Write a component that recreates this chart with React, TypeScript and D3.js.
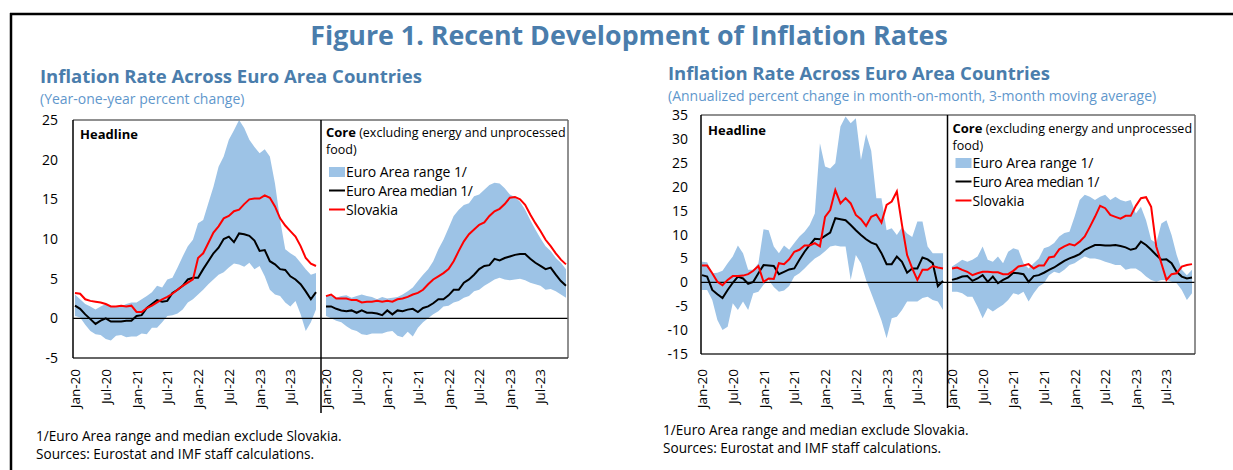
import * as d3 from "d3";

// ---- data ----
const months = d3.timeMonths(new Date(2020, 0, 1), new Date(2024, 0, 1)).map(d3.timeFormat("%b-%y"));
const tickLabels = ["Jan-20", "Jul-20", "Jan-21", "Jul-21", "Jan-22", "Jul-22", "Jan-23", "Jul-23"];

// Year-on-year, headline
const yoyHeadLo = [0.3, 0.1, -0.8, -1.6, -2.0, -2.1, -2.6, -2.8, -2.2, -2.1, -2.4, -2.3, -2.3, -1.9, -2.0, -1.2, -1.2, -0.5, 0.3, 0.4, 0.6, 1.1, 2.0, 2.4, 3.0, 3.6, 4.3, 4.9, 5.5, 5.8, 6.4, 6.9, 6.8, 6.5, 7.0, 6.2, 6.6, 5.3, 3.6, 3.0, 2.8, 2.0, 1.5, 2.2, 0.5, -1.6, -0.5, 1.1];
const yoyHeadHi = [3.0, 2.4, 1.8, 1.5, 1.1, 1.5, 1.8, 1.5, 1.4, 1.5, 1.8, 2.0, 2.0, 2.4, 2.8, 3.3, 4.1, 3.9, 4.9, 5.1, 6.4, 7.8, 9.1, 9.9, 12.0, 12.4, 14.5, 16.6, 19.1, 20.4, 22.5, 23.7, 25.0, 24.0, 22.5, 21.6, 20.8, 21.3, 20.4, 17.0, 12.4, 8.7, 8.2, 7.8, 7.0, 6.2, 5.5, 5.7];
const yoyHeadMed = [1.6, 1.2, 0.5, -0.1, -0.7, -0.3, 0.0, -0.4, -0.4, -0.4, -0.3, -0.3, 0.3, 0.4, 1.3, 1.8, 2.3, 2.1, 2.2, 3.2, 3.6, 4.1, 4.9, 5.1, 5.1, 6.2, 7.2, 8.2, 8.9, 10.0, 10.3, 9.6, 10.7, 10.6, 10.4, 9.8, 8.5, 8.6, 7.2, 6.8, 6.2, 6.1, 5.3, 4.9, 4.3, 3.4, 2.4, 3.3];
const yoyHeadSvk = [3.2, 3.1, 2.4, 2.2, 2.1, 2.0, 1.8, 1.5, 1.5, 1.6, 1.5, 1.6, 0.8, 0.8, 1.3, 1.6, 2.0, 2.4, 2.7, 3.1, 3.6, 4.1, 4.5, 4.9, 7.6, 8.2, 9.5, 10.8, 11.6, 12.6, 12.9, 13.5, 13.7, 14.4, 15.0, 15.1, 15.1, 15.5, 15.2, 14.1, 12.6, 11.7, 11.0, 10.3, 9.1, 7.6, 6.9, 6.6];

// Year-on-year, core
const yoyCoreLo = [0.3, 0.0, -0.3, -0.5, -1.0, -1.4, -1.6, -2.0, -2.1, -1.9, -1.9, -1.9, -1.7, -1.6, -2.2, -2.4, -1.7, -2.3, -1.2, -0.5, 0.0, 0.5, 0.9, 1.5, 1.6, 2.0, 2.2, 2.6, 2.8, 3.4, 3.6, 4.1, 4.5, 4.9, 5.1, 4.9, 4.8, 4.9, 5.0, 4.8, 4.5, 4.3, 4.1, 3.6, 3.7, 3.4, 3.0, 2.6];
const yoyCoreHi = [2.8, 2.9, 2.6, 2.8, 2.9, 2.6, 2.8, 3.0, 2.8, 2.7, 2.4, 2.7, 2.5, 2.6, 2.7, 3.0, 3.4, 3.9, 4.7, 5.5, 6.2, 7.2, 8.7, 9.9, 11.4, 12.9, 13.7, 14.3, 14.5, 15.4, 15.6, 16.2, 16.8, 17.1, 17.0, 16.4, 15.6, 15.3, 14.7, 13.7, 12.4, 11.2, 10.1, 9.1, 8.5, 7.6, 7.0, 6.2];
const yoyCoreMed = [1.5, 1.5, 1.2, 1.0, 0.9, 1.0, 0.7, 1.0, 0.7, 0.7, 0.6, 0.4, 1.0, 0.5, 1.0, 0.9, 1.1, 1.2, 0.8, 1.3, 1.5, 1.9, 2.4, 2.4, 2.9, 3.6, 3.6, 4.5, 4.9, 5.5, 6.2, 6.6, 6.7, 7.5, 7.3, 7.6, 7.8, 8.0, 8.1, 8.1, 7.5, 7.0, 6.6, 6.2, 6.4, 5.5, 4.7, 4.1];
const yoyCoreSvk = [2.8, 3.0, 2.5, 2.5, 2.5, 2.3, 2.3, 2.0, 2.1, 2.1, 2.2, 2.1, 2.2, 2.1, 2.4, 2.5, 2.7, 3.0, 3.2, 3.6, 4.3, 4.9, 5.3, 5.7, 6.2, 7.2, 8.5, 9.7, 10.6, 11.2, 11.8, 12.1, 12.9, 13.5, 13.8, 14.4, 15.2, 15.3, 15.0, 14.3, 13.1, 12.0, 11.0, 9.9, 9.1, 8.2, 7.4, 6.8];

// Month-on-month annualized (3mma), headline
const momHeadLo = [-1.6, -1.6, -3.7, -7.9, -10.0, -9.3, -4.4, -5.8, -4.0, -5.8, -2.3, -2.0, -0.5, 0.5, -1.0, -2.0, -1.7, -0.8, 1.2, 1.9, 2.9, 4.0, 5.0, 5.6, 6.5, 7.5, 7.7, 7.5, 7.5, 0.5, 5.7, 4.0, 0.5, -2.3, -5.1, -8.0, -11.7, -7.5, -7.2, -5.8, -4.0, -4.0, -4.0, -3.3, -3.0, -3.7, -4.0, -5.8];
const momHeadHi = [4.3, 4.2, 1.9, 2.0, 2.4, 4.0, 5.4, 7.7, 6.1, 2.6, 2.6, 4.0, 11.1, 10.9, 7.5, 6.1, 7.7, 6.8, 8.2, 9.6, 10.6, 12.0, 14.4, 29.1, 24.2, 23.8, 24.9, 32.6, 34.7, 33.3, 34.3, 25.6, 31.0, 27.5, 17.6, 17.6, 10.9, 11.3, 9.9, 11.5, 10.2, 9.5, 12.7, 12.7, 7.5, 6.1, 6.1, 6.1];
const momHeadMed = [1.5, 1.2, -1.6, -2.5, -3.3, -1.6, -0.1, 1.2, 0.8, -0.3, 0.1, 1.9, 3.6, 3.5, 3.4, 1.7, 2.2, 2.7, 2.9, 4.7, 6.4, 7.8, 9.1, 9.0, 9.7, 10.4, 13.4, 13.2, 13.0, 12.0, 10.9, 9.9, 9.0, 8.3, 7.9, 6.1, 3.8, 3.8, 5.4, 4.3, 2.0, 2.9, 2.9, 5.2, 4.8, 4.0, -0.8, 0.3];
const momHeadSvk = [3.5, 3.5, 1.9, 0.1, -0.6, 0.5, 1.3, 1.3, 1.4, 1.7, 2.4, 3.4, 0.1, 0.8, 0.7, 4.0, 3.8, 4.8, 6.4, 6.8, 7.7, 7.7, 8.2, 7.5, 13.7, 15.1, 19.3, 16.5, 17.6, 16.5, 14.1, 13.2, 11.8, 13.7, 14.2, 12.5, 16.2, 16.9, 19.0, 12.0, 5.7, 2.9, 0.5, 2.6, 2.6, 3.4, 3.1, 2.9];

// Month-on-month annualized (3mma), core
const momCoreLo = [-2.0, -2.0, -2.3, -3.0, -3.0, -5.1, -7.5, -5.4, -6.1, -5.4, -4.7, -3.7, -2.3, -2.6, -2.0, -4.0, -2.3, -0.9, -0.2, 1.5, 2.2, 1.9, 2.6, 3.6, 4.0, 4.7, 5.4, 5.0, 5.0, 4.7, 4.3, 4.0, 3.6, 3.6, 2.6, 2.9, 2.9, 2.2, 1.2, 0.5, 0.1, 0.5, 0.5, 0.1, -0.2, -1.6, -3.7, -2.3];
const momCoreHi = [3.3, 4.0, 4.7, 4.3, 4.7, 5.4, 7.5, 4.7, 4.3, 5.4, 4.0, 6.4, 7.1, 6.8, 4.0, 2.9, 4.0, 5.0, 7.1, 7.5, 8.2, 9.6, 10.3, 10.6, 13.7, 17.2, 18.3, 17.9, 17.2, 17.9, 18.3, 17.2, 17.9, 17.2, 16.9, 17.2, 14.4, 15.8, 13.0, 8.9, 8.2, 12.3, 13.0, 9.9, 5.7, 2.6, 1.5, 2.6];
const momCoreMed = [0.5, 0.8, 1.2, 1.3, 0.3, 0.8, 1.5, 0.1, 1.2, -0.2, 0.5, 1.0, 2.0, 1.9, 1.7, 0.1, 1.3, 1.5, 2.0, 2.6, 3.1, 3.8, 4.5, 5.0, 5.4, 5.9, 6.8, 7.3, 7.8, 7.8, 7.7, 7.7, 7.8, 7.6, 7.3, 6.8, 7.1, 8.5, 7.8, 6.8, 5.7, 4.7, 4.8, 4.0, 2.2, 1.2, 0.8, 1.0];
const momCoreSvk = [2.9, 3.1, 2.6, 2.2, 1.5, 1.9, 2.2, 2.2, 2.1, 2.1, 1.7, 1.7, 2.4, 3.3, 3.5, 3.8, 2.9, 3.5, 3.5, 5.2, 5.4, 6.9, 7.5, 8.0, 7.7, 8.5, 9.6, 11.6, 13.7, 16.0, 15.5, 14.1, 13.7, 13.3, 13.9, 13.9, 16.0, 17.6, 17.8, 15.8, 7.5, 4.0, 0.5, 1.7, 1.9, 3.3, 3.6, 3.8];

const yoyTicks = [-5, 0, 5, 10, 15, 20, 25];
const momTicks = [-15, -10, -5, 0, 5, 10, 15, 20, 25, 30, 35];

// ---- style ----
const FONT = "'Open Sans', 'Noto Sans', sans-serif";
const BLUE_TITLE = "#4a7dac";
const BLUE_SUB = "#5f97cc";
const BAND = "#9dc3e6";
const RED = "#ff0000";

type Series = { lo: number[]; hi: number[]; med: number[]; svk: number[] };

type ChartProps = {
  left: number; right: number; top: number; bottom: number; div: number; divBottom: number;
  domain: [number, number]; ticks: number[]; tickRight: number;
  headRange: [number, number]; coreRange: [number, number];
  head: Series; core: Series; labelY: number;
  title: string; sub: string; titleX: number; titleY: number; subY: number;
  headY: number; coreY: number; legendY: number; notesY: number; notesX: number;
};

function Chart(p: ChartProps) {
  const y = d3.scaleLinear().domain(p.domain).range([p.bottom, p.top]);
  const xh = d3.scalePoint<string>().domain(months).range(p.headRange);
  const xc = d3.scalePoint<string>().domain(months).range(p.coreRange);
  const lx = p.div + 8;
  const ly = p.legendY;

  const band = (x: d3.ScalePoint<string>, s: Series) =>
    d3.area<string>().x(d => x(d)!).y0((_, i) => y(s.lo[i])).y1((_, i) => y(s.hi[i]))(months) || "";
  const line = (x: d3.ScalePoint<string>, vals: number[]) =>
    d3.line<number>().x((_, i) => x(months[i])!).y(d => y(d))(vals) || "";

  return (
    <g fontFamily={FONT}>
      <text x={p.titleX} y={p.titleY} fontSize={18.5} fontWeight={700} fill={BLUE_TITLE}>{p.title}</text>
      <text x={p.titleX} y={p.subY} fontSize={14} fill={BLUE_SUB}>{p.sub}</text>

      <path d={band(xh, p.head)} fill={BAND} />
      <path d={band(xc, p.core)} fill={BAND} />
      <line x1={p.left} x2={p.right} y1={y(0)} y2={y(0)} stroke="#000" strokeWidth={1.2} />
      <path d={line(xh, p.head.med)} fill="none" stroke="#000" strokeWidth={2} />
      <path d={line(xh, p.head.svk)} fill="none" stroke={RED} strokeWidth={2} />
      <path d={line(xc, p.core.med)} fill="none" stroke="#000" strokeWidth={2} />
      <path d={line(xc, p.core.svk)} fill="none" stroke={RED} strokeWidth={2} />

      {/* frame */}
      <line x1={p.left} x2={p.right} y1={p.top} y2={p.top} stroke="#6b6b6b" strokeWidth={1.5} />
      <line x1={p.right} x2={p.right} y1={p.top} y2={p.bottom} stroke="#6b6b6b" strokeWidth={1.5} />
      <line x1={p.left} x2={p.right} y1={p.bottom} y2={p.bottom} stroke="#333" strokeWidth={1.5} />
      <line x1={p.left} x2={p.left} y1={p.top} y2={p.bottom} stroke="#000" strokeWidth={1.5} />
      <line x1={p.div} x2={p.div} y1={p.top} y2={p.divBottom} stroke="#000" strokeWidth={1.5} />

      {p.ticks.map(t => (
        <text key={t} x={p.tickRight} y={y(t) + 5} textAnchor="end" fontSize={14} fill="#000">{t}</text>
      ))}

      {[xh, xc].map((xs, k) =>
        tickLabels.map(lbl => (
          <text key={k + lbl} transform={`translate(${xs(lbl)! + 5},${p.labelY}) rotate(-90)`}
            textAnchor="end" fontSize={13.5} fill="#000">{lbl}</text>
        ))
      )}

      <text x={p.left + 7} y={p.headY} fontSize={13} fontWeight={700} fill="#000">Headline</text>
      <text x={lx - 3} y={p.coreY} fontSize={12.5} fill="#000">
        <tspan fontWeight={700} fontSize={13}>Core</tspan> (excluding energy and unprocessed
      </text>
      <text x={lx - 3} y={p.coreY + 17} fontSize={12.5} fill="#000">food)</text>

      <rect x={lx} y={ly - 5} width={16} height={10} fill={BAND} />
      <text x={lx + 17} y={ly + 5} fontSize={14} textLength={121} lengthAdjust="spacing" fill="#000">Euro Area range 1/</text>
      <line x1={lx} x2={lx + 16} y1={ly + 18.5} y2={ly + 18.5} stroke="#000" strokeWidth={2} />
      <text x={lx + 17} y={ly + 23.5} fontSize={14} textLength={127} lengthAdjust="spacing" fill="#000">Euro Area median 1/</text>
      <line x1={lx} x2={lx + 16} y1={ly + 37.5} y2={ly + 37.5} stroke={RED} strokeWidth={2} />
      <text x={lx + 17} y={ly + 42.5} fontSize={14} textLength={52} lengthAdjust="spacing" fill="#000">Slovakia</text>

      <text x={p.notesX} y={p.notesY} fontSize={13.6} fill="#000">1/Euro Area range and median exclude Slovakia.</text>
      <text x={p.notesX} y={p.notesY + 18} fontSize={13.6} fill="#000">Sources: Eurostat and IMF staff calculations.</text>
    </g>
  );
}

export default function App() {
  return (
    <svg width={1233} height={470} style={{ position: "absolute", left: 0, top: 0, background: "#fff" }}>
      <line x1={10} x2={1233} y1={14} y2={14} stroke="#000" strokeWidth={2.5} />
      <line x1={11} x2={11} y1={13} y2={470} stroke="#000" strokeWidth={2.5} />
      <text x={629} y={45} textAnchor="middle" fontFamily={FONT} fontSize={26.8} fontWeight={700} fill={BLUE_TITLE}>
        Figure 1. Recent Development of Inflation Rates
      </text>

      <Chart
        left={73} right={568} top={120} bottom={358} div={321} divBottom={413}
        domain={[-5, 25]} ticks={yoyTicks} tickRight={58}
        headRange={[75, 316]} coreRange={[326, 566]}
        head={{ lo: yoyHeadLo, hi: yoyHeadHi, med: yoyHeadMed, svk: yoyHeadSvk }}
        core={{ lo: yoyCoreLo, hi: yoyCoreHi, med: yoyCoreMed, svk: yoyCoreSvk }}
        labelY={369}
        title="Inflation Rate Across Euro Area Countries" sub="(Year-one-year percent change)"
        titleX={40} titleY={83} subY={104}
        headY={139} coreY={137} legendY={172} notesX={36} notesY={441}
      />
      <Chart
        left={701} right={1195} top={115} bottom={354} div={947.5} divBottom={408}
        domain={[-15, 35]} ticks={momTicks} tickRight={688}
        headRange={[702, 943]} coreRange={[952, 1192]}
        head={{ lo: momHeadLo, hi: momHeadHi, med: momHeadMed, svk: momHeadSvk }}
        core={{ lo: momCoreLo, hi: momCoreHi, med: momCoreMed, svk: momCoreSvk }}
        labelY={369}
        title="Inflation Rate Across Euro Area Countries"
        sub="(Annualized percent change in month-on-month, 3-month moving average)"
        titleX={668} titleY={80} subY={101}
        headY={135} coreY={133} legendY={163} notesX={663} notesY={435}
      />
    </svg>
  );
}
